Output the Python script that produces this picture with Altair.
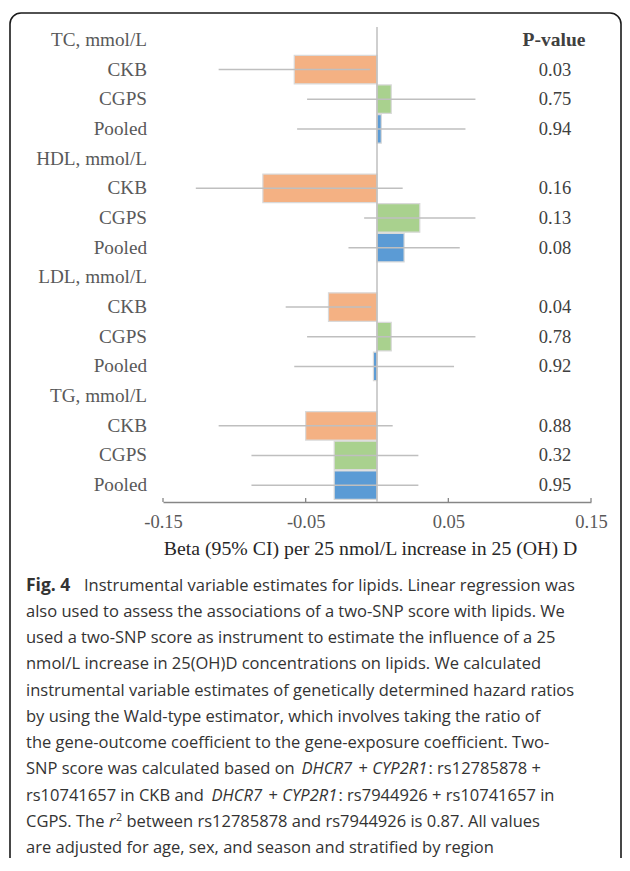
import altair as alt
import pandas as pd

# ---------------- data ----------------
groups = ["TC", "HDL", "LDL", "TG"]
group_titles = ["TC, mmol/L", "HDL, mmol/L", "LDL, mmol/L", "TG, mmol/L"]
cohorts = ["CKB", "CGPS", "Pooled"]

beta = {
    "TC": [-0.058, 0.010, 0.003],
    "HDL": [-0.080, 0.030, 0.019],
    "LDL": [-0.034, 0.010, -0.0025],
    "TG": [-0.050, -0.030, -0.030],
}
ci_low = {
    "TC": [-0.111, -0.049, -0.056],
    "HDL": [-0.127, -0.009, -0.020],
    "LDL": [-0.064, -0.049, -0.058],
    "TG": [-0.111, -0.088, -0.088],
}
ci_high = {
    "TC": [-0.005, 0.069, 0.062],
    "HDL": [0.018, 0.069, 0.058],
    "LDL": [-0.004, 0.069, 0.054],
    "TG": [0.011, 0.029, 0.029],
}
p_values = {
    "TC": ["0.03", "0.75", "0.94"],
    "HDL": ["0.16", "0.13", "0.08"],
    "LDL": ["0.04", "0.78", "0.92"],
    "TG": ["0.88", "0.32", "0.95"],
}
x_ticks = [-0.15, -0.05, 0.05, 0.15]
x_title = "Beta (95% CI) per 25 nmol/L increase in 25 (OH) D"
p_header = "P-value"

caption_lines = [
    [("Fig. 4", "bold"), ("Instrumental variable estimates for lipids. Linear regression was", "normal")],
    [("also used to assess the associations of a two-SNP score with lipids. We", "normal")],
    [("used a two-SNP score as instrument to estimate the influence of a 25", "normal")],
    [("nmol/L increase in 25(OH)D concentrations on lipids. We calculated", "normal")],
    [("instrumental variable estimates of genetically determined hazard ratios", "normal")],
    [("by using the Wald-type estimator, which involves taking the ratio of", "normal")],
    [("the gene-outcome coefficient to the gene-exposure coefficient. Two-", "normal")],
    [("SNP score was calculated based on", "normal"), ("DHCR7", "italic"), ("+", "normal"),
     ("CYP2R1", "italic"), (": rs12785878 +", "normal")],
    [("rs10741657 in CKB and", "normal"), ("DHCR7", "italic"), ("+", "normal"),
     ("CYP2R1", "italic"), (": rs7944926 + rs10741657 in", "normal")],
    [("CGPS. The", "normal"), ("r", "italic"), ("2", "sup"),
     ("between rs12785878 and rs7944926 is 0.87. All values", "normal")],
    [("are adjusted for age, sex, and season and stratified by region", "normal")],
]

# ---------------- layout (pixels, relative to plot origin at page 163,25) ----------------
W, H = 428, 475
PAD_L, PAD_T = 155, 17
SVG_W, SVG_H = 614, 850
cap_x0 = -137
cap_y0 = 565.7
cap_dy = 26.25
seg_x = {
    (0, 1): -79,
    (7, 1): 138.5, (7, 2): 195.6, (7, 3): 209.3, (7, 4): 265.5,
    (8, 1): 48.5, (8, 2): 105.6, (8, 3): 119.3, (8, 4): 175.5,
    (9, 1): -54, (9, 2): -47, (9, 3): -36.5,
}
cap_font = "Open Sans"
cap_size = 16.5
cap_bold_size = 17.5
cap_color = "#333333"
serif = "Liberation Serif"
label_color = "#595959"

# ---------------- build table ----------------
rows = []
for g, gt in zip(groups, group_titles):
    rows.append({"key": f"{g}|{gt}", "label": gt, "cohort": None, "beta": None,
                 "lo": None, "hi": None, "p": None})
    for i, c in enumerate(cohorts):
        rows.append({"key": f"{g}|{c}", "label": c, "cohort": c, "beta": beta[g][i],
                     "lo": ci_low[g][i], "hi": ci_high[g][i], "p": p_values[g][i]})
df = pd.DataFrame(rows)
order = list(df["key"])
data_rows = df[df["cohort"].notna()]

xscale = alt.Scale(domain=[-0.15, 0.15], nice=False, zero=False)
yscale = alt.Scale(domain=order, paddingInner=0, paddingOuter=0)
yenc = alt.Y("key:N", scale=yscale, sort=order, axis=None)

row_labels = alt.Chart(df).mark_text(
    font=serif, fontSize=19.2, color=label_color, align="right", baseline="middle"
).encode(x=alt.value(-16), y=yenc, text="label:N")

bars = alt.Chart(data_rows).mark_bar(
    stroke="#d9d9d9", strokeWidth=1.2, height={"band": 0.96}
).encode(
    x=alt.X("beta:Q", scale=xscale,
            axis=alt.Axis(values=x_ticks, title=x_title, ticks=False, grid=False,
                          domainColor="#868686", domainWidth=1.3, offset=2,
                          labelFlush=False, labelBound=False,
                          labelFont=serif, labelFontSize=18.5, labelColor=label_color,
                          labelPadding=10,
                          labelExpr="datum.value < 0 ? '-' + format(-datum.value, '.2f') : format(datum.value, '.2f')",
                          titleFont=serif, titleFontSize=19.8, titleFontWeight="normal",
                          titleColor="#262626", titlePadding=8, titleX=207,
                          titleAlign="center")),
    x2=alt.datum(0),
    y=yenc,
    color=alt.Color("cohort:N", scale=alt.Scale(domain=cohorts,
                    range=["#F4B183", "#A9D18E", "#5B9BD5"]), legend=None),
)

zero = alt.Chart(alt.Data(values=[{"z": 0}])).mark_rule(
    color="#bfbfbf", strokeWidth=1.5
).encode(x=alt.X("z:Q", scale=xscale), y=alt.value(2), y2=alt.value(H + 2))

ci = alt.Chart(data_rows).mark_rule(color="#bfbfbf", strokeWidth=1.5).encode(
    x=alt.X("lo:Q", scale=xscale), x2="hi:Q", y=yenc
)

ticks = alt.Chart(pd.DataFrame({"t": x_ticks})).mark_rule(
    color="#868686", strokeWidth=1.3
).encode(x=alt.X("t:Q", scale=xscale), y=alt.value(H - 2), y2=alt.value(H + 2))

ptext = alt.Chart(data_rows).mark_text(
    font=serif, fontSize=18.5, color="#404040", align="center", baseline="middle"
).encode(x=alt.value(392), y=yenc, text="p:N")

phead = alt.Chart(alt.Data(values=[{"k": order[0], "t": p_header}])).mark_text(
    font=serif, fontSize=19.5, fontWeight="bold", color="#404040",
    align="center", baseline="middle"
).encode(x=alt.value(391), y=alt.Y("k:N", scale=yscale, sort=order, axis=None),
         text="t:N")

border = alt.Chart(alt.Data(values=[{}])).mark_rect(
    fillOpacity=0, stroke="#1a1a1a", strokeWidth=1.6, cornerRadius=11
).encode(x=alt.value(-153), x2=alt.value(458), y=alt.value(-12), y2=alt.value(847))

layers = [bars, zero, ci, ticks, row_labels, ptext, phead, border]

for li, line in enumerate(caption_lines):
    y = cap_y0 + li * cap_dy
    for si, (txt, style) in enumerate(line):
        x = cap_x0 if si == 0 else seg_x[(li, si)]
        kw = dict(font=cap_font, fontSize=cap_size, color=cap_color,
                  align="left", baseline="alphabetic")
        yy = y
        if style == "bold":
            kw["fontWeight"] = "bold"
            kw["fontSize"] = cap_bold_size
        elif style == "italic":
            kw["fontStyle"] = "italic"
        elif style == "sup":
            kw["fontSize"] = cap_size * 0.65
            yy = y - 6
        layers.append(
            alt.Chart(alt.Data(values=[{}])).mark_text(**kw).encode(
                x=alt.value(x), y=alt.value(yy), text=alt.value(txt))
        )

chart = alt.layer(*layers).properties(
    width=W, height=H,
    autosize=alt.AutoSizeParams(type="none"),
    padding={"left": PAD_L, "top": PAD_T, "right": SVG_W - PAD_L - W,
             "bottom": SVG_H - PAD_T - H},
    background="white",
).configure_view(strokeWidth=0)

chart.save("out.html", embed_options={"renderer": "svg", "actions": False})
